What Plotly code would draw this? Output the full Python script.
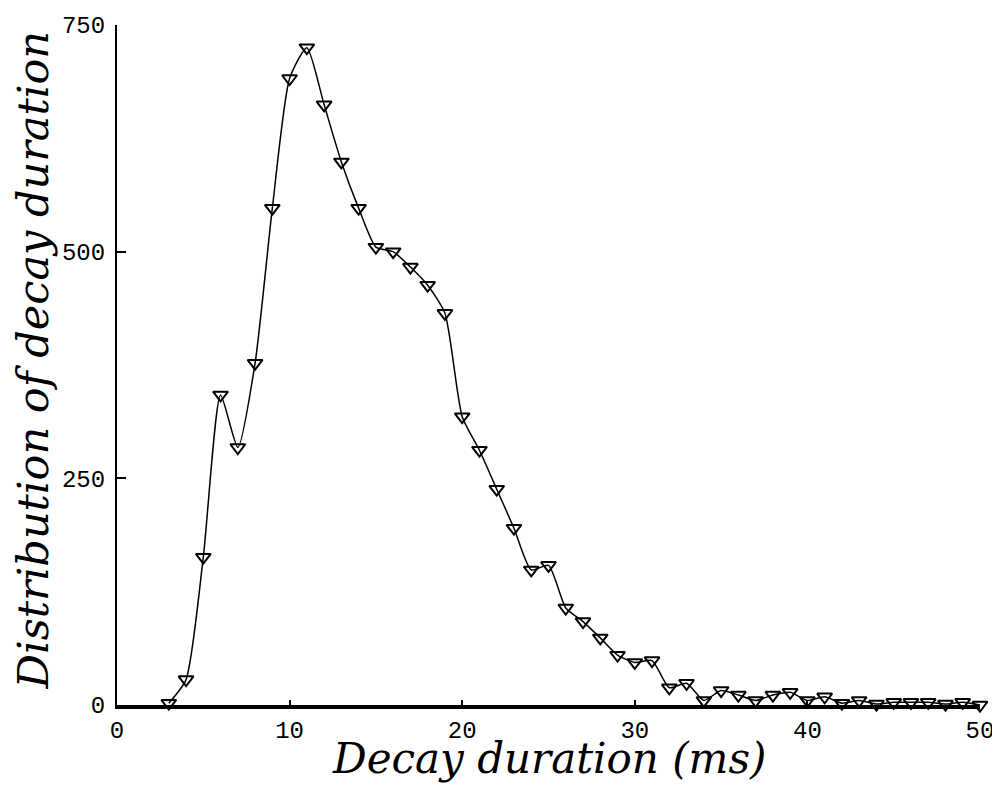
"""Distribution of decay duration: smoothed curve with open down-triangle markers."""

import plotly.graph_objects as go

# Decay duration (ms) and the counts
duration_ms = list(range(3, 51))
counts = [
    2, 28, 163, 342, 284, 377, 548, 691, 725, 662,
    599, 548, 505, 500, 483, 463, 432, 318, 281, 238,
    195, 149, 154, 107, 92, 74, 55, 47, 49, 19,
    24, 5, 16, 11, 5, 11, 14, 5, 9, 2,
    5, 1, 3, 3, 3, 1, 3, 0,
]

x_ticks = [0, 10, 20, 30, 40, 50]
y_ticks = [0, 250, 500, 750]

tick_font = dict(family="Liberation Mono", size=24, color="black")
xtitle_font = dict(family="DejaVu Serif", size=42, color="black", style="italic")
ytitle_font = dict(family="DejaVu Serif", size=43, color="black", style="italic")

fig = go.Figure()
fig.add_trace(
    go.Scatter(
        x=duration_ms,
        y=counts,
        mode="lines",
        line=dict(color="black", width=1.5, shape="spline", smoothing=0.6),
        cliponaxis=False,
        showlegend=False,
    )
)
fig.add_trace(
    go.Scatter(
        x=duration_ms,
        y=counts,
        mode="markers",
        marker=dict(symbol="triangle-down-open", size=13, color="black", line=dict(width=2, color="black")),
        cliponaxis=False,
        showlegend=False,
    )
)

# page body has an 8px margin, so the figure is a little smaller than the window
fig.update_layout(
    width=992,
    height=776,
    margin=dict(l=109, r=20, t=17, b=79),
    paper_bgcolor="white",
    plot_bgcolor="white",
    showlegend=False,
    annotations=[
        dict(
            text="Decay duration (ms)",
            xref="paper", yref="paper",
            x=0.5, y=-0.079,
            xanchor="center", yanchor="middle",
            showarrow=False,
            font=xtitle_font,
        ),
        dict(
            text="Distribution of decay duration",
            xref="paper", yref="paper",
            x=-0.097, y=0.507,
            xanchor="center", yanchor="middle",
            textangle=-90,
            showarrow=False,
            font=ytitle_font,
        ),
    ],
)
fig.update_xaxes(
    range=[0, 50],
    tickvals=x_ticks,
    ticks="inside",
    ticklen=5,
    tickwidth=2,
    tickcolor="black",
    tickfont=tick_font,
    ticklabelstandoff=0,
    showline=True,
    linecolor="black",
    linewidth=4,
    showgrid=False,
    zeroline=False,
    automargin=False,
)
fig.update_yaxes(
    range=[0, 750],
    tickvals=y_ticks,
    ticks="inside",
    ticklen=9,
    tickwidth=2,
    tickcolor="black",
    tickfont=tick_font,
    ticklabelstandoff=5,
    showline=True,
    linecolor="black",
    linewidth=2,
    showgrid=False,
    zeroline=False,
    automargin=False,
)

fig.write_html("out.html")
